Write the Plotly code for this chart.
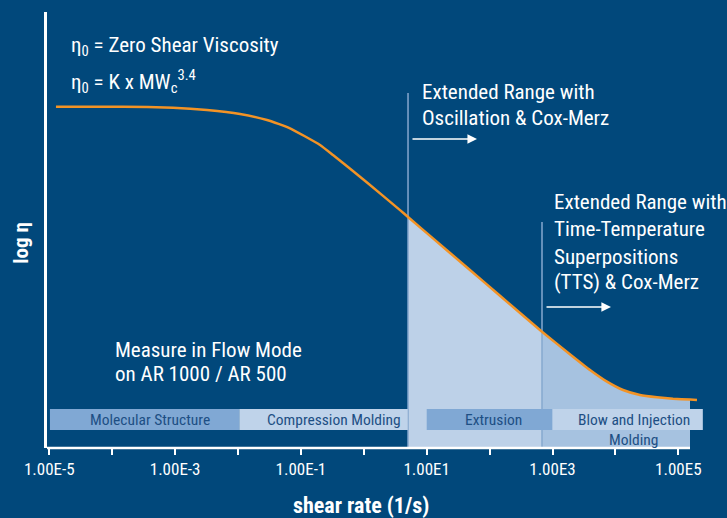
import plotly.graph_objects as go

# ---------------- data (x = log10 shear rate, y = log viscosity, arbitrary units) -------------
curve_x = [-4.894, -3.828, -3.033, -2.493, -1.968, -1.539, -1.173, -0.696, -0.490, 0.051,
           0.576, 0.703, 1.100, 1.641, 2.165, 2.833, 3.326, 3.596, 3.866, 4.121, 4.391,
           4.661, 4.916, 5.186, 5.297]
curve_y = [7.828, 7.828, 7.805, 7.752, 7.661, 7.523, 7.333, 6.950, 6.720, 6.090,
           5.455, 5.298, 4.808, 4.140, 3.492, 2.667, 2.094, 1.789, 1.521, 1.330, 1.216,
           1.163, 1.131, 1.110, 1.101]

osc_start = 0.703      # oscillation / Cox-Merz extended range begins
tts_start = 2.833      # TTS extended range begins
range_end = 5.186      # end of shaded range / axis line end
osc_line_top = 8.142
tts_line_top = 5.183

bar_labels = ["Molecular Structure", "Compression Molding", "Extrusion", "Blow and Injection"]
bar_start = [-4.99, -1.98, 1.0, 3.0]
bar_end = [-1.98, 0.70, 3.0, 5.39]
bar_low, bar_high = 0.413, 0.894

tick_vals = [-5, -4, -3, -2, -1, 0, 1, 2, 3, 4, 5]
tick_text = ["1.00E-5", "", "1.00E-3", "", "1.00E-1", "", "1.00E1", "", "1.00E3", "", "1.00E5"]

# ---------------- style ----------------
BG = "#01487b"
FONT = "Liberation Sans Narrow, Arial Narrow, Roboto Condensed, Roboto, sans-serif"
ORANGE = "#f39325"
FILL_LIGHT = "#bdd1e8"
FILL_DARK = "#a6c2e0"
BAR_MID = "#80a8d4"
BAR_LIGHT = "#bfd3ea"
BAR_TEXT = "#1d4f84"
VLINE = "#86a8cf"
SMOOTH = 0.4

fig = go.Figure()

def segment(x0, x1):
    xs, ys = [], []
    for x, y in zip(curve_x, curve_y):
        if x0 - 1e-9 <= x <= x1 + 1e-9:
            xs.append(x)
            ys.append(y)
    return xs, ys

for (a, b), col in [((osc_start, tts_start), FILL_LIGHT), ((tts_start, range_end), FILL_DARK)]:
    xs, ys = segment(a, b)
    fig.add_trace(go.Scatter(x=xs, y=ys, mode="lines", fill="tozeroy", fillcolor=col,
                             line=dict(width=0, color=col, shape="spline", smoothing=SMOOTH),
                             hoverinfo="skip", showlegend=False))

# vertical range lines
for xv, top in [(osc_start, osc_line_top), (tts_start, tts_line_top)]:
    fig.add_trace(go.Scatter(x=[xv, xv], y=[0, top], mode="lines",
                             line=dict(color=VLINE, width=1.5), hoverinfo="skip", showlegend=False))

# process bars
bar_cols = [BAR_MID, BAR_LIGHT, BAR_MID, BAR_LIGHT]
for s, e, c in zip(bar_start, bar_end, bar_cols):
    fig.add_trace(go.Scatter(x=[s, e, e, s, s], y=[bar_low, bar_low, bar_high, bar_high, bar_low],
                             mode="lines", fill="toself", fillcolor=c,
                             line=dict(width=0, color=c), hoverinfo="skip", showlegend=False))

# viscosity curve
fig.add_trace(go.Scatter(x=curve_x, y=curve_y, mode="lines",
                         line=dict(color=ORANGE, width=2.5, shape="spline", smoothing=SMOOTH),
                         hoverinfo="skip", showlegend=False))

ann = []
def txt(x, y, t, size=21, color="white", xanchor="left"):
    ann.append(dict(x=x, y=y, xref="x", yref="y", text=t, showarrow=False,
                    xanchor=xanchor, yanchor="middle",
                    font=dict(family=FONT, size=size, color=color)))

txt(0.893, 8.165, "Extended Range with")
txt(0.893, 7.569, "Oscillation & Cox-Merz")
txt(2.992, 5.642, "Extended Range with")
txt(2.992, 5.023, "Time-Temperature")
txt(2.992, 4.381, "Superpositions")
txt(2.992, 3.807, "(TTS) & Cox-Merz")
txt(-4.68, 9.20, "η<sub>0</sub> = Zero Shear Viscosity")
txt(-4.68, 8.41, "η<sub>0</sub> = K x MW<sub>c</sub><sup>3.4</sup>")
txt(-3.99, 2.245, "Measure in Flow Mode")
txt(-3.99, 1.697, "on AR 1000 / AR 500")

for lbl, xc in zip(bar_labels, [-3.399, -0.474, 2.054, 4.296]):
    txt(xc, 0.642, lbl, size=15.5, color=BAR_TEXT, xanchor="center")
txt(4.28, 0.195, "Molding", size=15.5, color=BAR_TEXT, xanchor="center")

# arrows
for tail, head, y in [(0.750, 1.800, 7.087), (2.881, 3.930, 3.234)]:
    ann.append(dict(x=head, y=y, ax=tail, ay=y, xref="x", yref="y", axref="x", ayref="y",
                    text="", showarrow=True, arrowhead=2, arrowsize=1.2, arrowwidth=1.6,
                    arrowcolor="white"))

# axis titles
ann.append(dict(x=-0.04, y=-0.133, xref="x", yref="paper", text="<b>shear rate (1/s)</b>",
                showarrow=False, xanchor="center", yanchor="middle",
                font=dict(family=FONT, size=22, color="white")))
ann.append(dict(x=-0.040, y=0.47, xref="paper", yref="paper", text="<b>log η</b>",
                showarrow=False, xanchor="center", yanchor="middle", textangle=-90,
                font=dict(family=FONT, size=21, color="white")))

fig.update_layout(
    width=727, height=518,
    paper_bgcolor=BG, plot_bgcolor=BG,
    margin=dict(l=47, r=22, t=12, b=70),
    annotations=ann,
    shapes=[dict(type="line", xref="x", yref="paper", x0=-5.04, x1=range_end, y0=0, y1=0,
                 line=dict(color="white", width=2.5), layer="above")],
    xaxis=dict(range=[-5.0366, 5.4245], showgrid=False, zeroline=False, showline=False,
               tickmode="array", tickvals=tick_vals, ticktext=tick_text,
               ticks="outside", ticklen=6, tickwidth=1.5, tickcolor="white",
               tickfont=dict(family=FONT, size=17, color="white")),
    yaxis=dict(range=[0, 10], showgrid=False, zeroline=False, showline=True,
               linecolor="white", linewidth=2.5, showticklabels=False, ticks=""),
)

fig.write_html("out.html", config={"displayModeBar": False},
               post_script="document.body.style.margin='0px';document.body.style.padding='0px';"
                           "document.body.style.background='" + BG + "';")
